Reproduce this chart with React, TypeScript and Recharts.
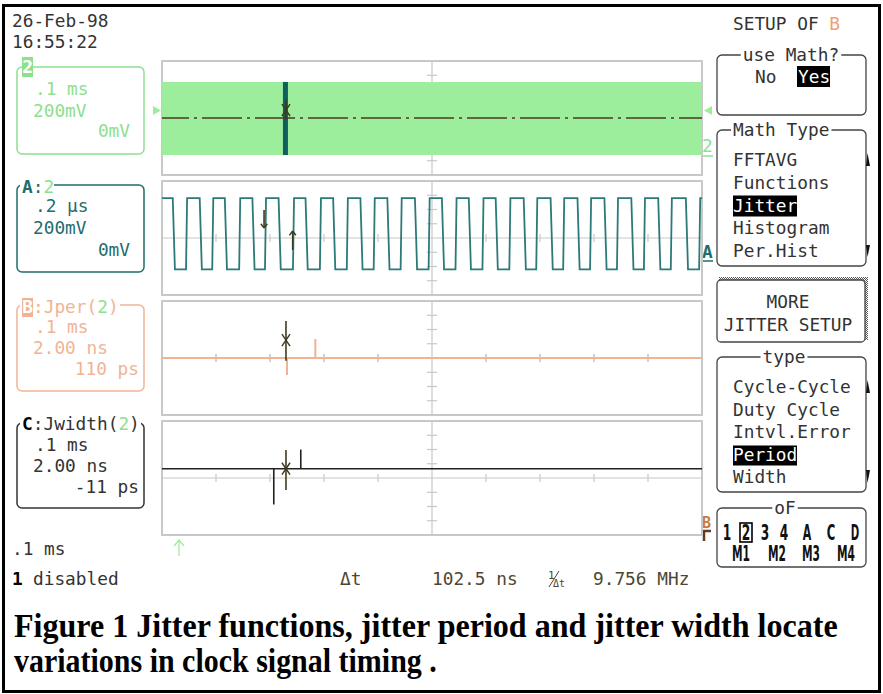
import React, { useLayoutEffect, useRef, useState } from 'react';
import { ComposedChart, Line, Area, XAxis, YAxis, ReferenceLine, ReferenceArea } from 'recharts';

// x is in screen divisions (0..10), y in divisions (-4..4)

// channel 2 at .1 ms/div - the clock smears into a solid band
const envelopeX = [0, 10];
const envelopeLow = [-2.6, -2.6];
const envelopeHigh = [2.53, 2.53];

// trace A at .2 us/div - clock edges
const fallEdges = [0.199, 0.698, 1.163, 1.674, 2.159, 2.658, 3.169, 3.674, 4.173, 4.684,
  5.183, 5.681, 6.179, 6.698, 7.196, 7.694, 8.193, 8.691, 9.189, 9.701];
const riseEdges = [0.445, 0.93, 1.429, 1.907, 2.425, 2.924, 3.422, 3.92, 4.419, 4.937,
  5.435, 5.934, 6.432, 6.93, 7.429, 7.927, 8.425, 8.924, 9.422, 9.947];
const clockHigh = 2.8;
const clockLow = -2.2;

// trace B, Jper(2), 2.00 ns/div
const jperBase = 0;
const jperSpikeX = [2.315, 2.84];
const jperSpikeY = [-1.19, 1.33];

// trace C, Jwidth(2), 2.00 ns/div
const jwidthBase = 0.65;
const jwidthSpikeX = [2.07, 2.57];
const jwidthSpikeY = [-1.86, 2.0];

const cursorX = 2.296;

const mathTypes = ['FFTAVG', 'Functions', 'Jitter', 'Histogram', 'Per.Hist'];
const jitterTypes = ['Cycle-Cycle', 'Duty Cycle', 'Intvl.Error', 'Period', 'Width'];
const sourcesRow1 = ['1', '2', '3', '4', 'A', 'C', 'D'];
const sourcesRow2 = ['M1', 'M2', 'M3', 'M4'];

const W = 883;
const H = 694;
const PANEL_LEFT = 162;
const PANEL_W = 540;
const PANEL_H = 114;

const GRID = '#c8c8c8';
const GREEN = '#9cee9c';
const GREEN_TXT = '#8ee08e';
const TEAL = '#1f6d6d';
const WAVE = '#2b7a78';
const PEACH = '#f0b494';
const INK = '#333';
const MARK = '#3f3a1e';
const MONO = "'DejaVu Sans Mono', monospace";
const FS = 17.8;

const envData = envelopeX.map((x, i) => ({ x, env: [envelopeLow[i], envelopeHigh[i]] }));

const clockData = (() => {
  const edges = [
    ...fallEdges.map((t) => ({ t, fall: true })),
    ...riseEdges.map((t) => ({ t, fall: false })),
  ].sort((a, b) => a.t - b.t);
  const pts = [{ x: 0, y: clockHigh }];
  edges.forEach((e) => {
    if (e.fall) pts.push({ x: e.t, y: clockHigh }, { x: e.t + 0.04, y: clockLow });
    else pts.push({ x: e.t, y: clockLow }, { x: e.t + 0.02, y: clockHigh });
  });
  pts.push({ x: 10, y: clockHigh });
  return pts;
})();

function spikeTrace(base: number, xs: number[], ys: number[]) {
  const pts = [{ x: 0, y: base }];
  xs.forEach((t, i) => pts.push({ x: t, y: base }, { x: t, y: ys[i] }, { x: t, y: base }));
  pts.push({ x: 10, y: base });
  return pts;
}

const jperData = spikeTrace(jperBase, jperSpikeX, jperSpikeY);
const jwidthData = spikeTrace(jwidthBase, jwidthSpikeX, jwidthSpikeY);

function seg(key: string, x1: number, y1: number, x2: number, y2: number, stroke = GRID, w = 1.2) {
  return (
    <ReferenceLine key={key} segment={[{ x: x1, y: y1 }, { x: x2, y: y2 }]} stroke={stroke} strokeWidth={w} ifOverflow="visible" />
  );
}

// graticule: border, centre cross and minor ticks
function graticule(id: string, hLine: boolean, gap?: [number, number]) {
  const out = [
    <ReferenceArea key={id + 'b'} x1={0} x2={10} y1={-4} y2={4} fill="none" stroke={GRID} strokeWidth={2} ifOverflow="visible" />,
  ];
  if (gap) {
    out.push(seg(id + 'v1', 5, -4, 5, gap[0]), seg(id + 'v2', 5, gap[1], 5, 4));
  } else {
    out.push(seg(id + 'v', 5, -4, 5, 4));
  }
  [-3, -2, -1, 1, 2, 3].forEach((y) => {
    if (gap && y > gap[0] && y < gap[1]) return;
    out.push(seg(id + 'ty' + y, 4.905, y, 5.095, y));
  });
  if (hLine) out.push(seg(id + 'h', 0, 0, 10, 0));
  if (!gap) {
    [1, 2, 3, 4, 6, 7, 8, 9].forEach((x) => out.push(seg(id + 'tx' + x, x, -0.28, x, 0.28)));
  }
  return out;
}

function cursorMark(id: string, x: number, top: number, bottom: number, mid: number) {
  const dx = 0.075;
  const dy = 0.42;
  return [
    seg(id + 's', x, bottom, x, top, MARK, 1.6),
    seg(id + 'a', x - dx, mid + dy, x, mid, MARK, 1.4),
    seg(id + 'b', x + dx, mid + dy, x, mid, MARK, 1.4),
    seg(id + 'c', x - dx, mid - dy, x, mid, MARK, 1.4),
    seg(id + 'd', x + dx, mid - dy, x, mid, MARK, 1.4),
  ];
}

function arrow(id: string, x: number, tail: number, head: number) {
  const dx = 0.06;
  const dy = head > tail ? -0.3 : 0.3;
  return [
    seg(id + 's', x, tail, x, head, MARK, 1.6),
    seg(id + 'a', x - dx, head + dy, x, head, MARK, 1.4),
    seg(id + 'b', x + dx, head + dy, x, head, MARK, 1.4),
  ];
}

function Scope({ top, children }: { top: number; children: React.ReactNode }) {
  return (
    <div style={{ position: 'absolute', left: PANEL_LEFT - 2, top: top - 2 }}>
      <ComposedChart width={PANEL_W + 4} height={PANEL_H + 4} margin={{ top: 2, right: 2, bottom: 2, left: 2 }}>
        <XAxis type="number" dataKey="x" domain={[0, 10]} hide allowDataOverflow />
        <YAxis type="number" domain={[-4, 4]} hide allowDataOverflow />
        {children}
      </ComposedChart>
    </div>
  );
}

function Txt({ x, y, fill = INK, anchor = 'start', weight = 'normal', size = FS, children }: any) {
  return (
    <text x={x} y={y} fill={fill} textAnchor={anchor} fontWeight={weight} fontFamily={MONO} fontSize={size}>
      {children}
    </text>
  );
}

// squeezes a text horizontally so that it is exactly `width` wide
function FitText({ x, y, width, sy = 1, anchor = 'start', children, ...rest }: any) {
  const ref = useRef<SVGTextElement>(null);
  const [sx, setSx] = useState(1);
  useLayoutEffect(() => {
    const el = ref.current;
    if (!el) return;
    const w = el.getComputedTextLength();
    if (w > 0) setSx(width / w);
  }, [width]);
  return (
    <text ref={ref} transform={`translate(${x} ${y}) scale(${sx} ${sy})`} textAnchor={anchor} {...rest}>
      {children}
    </text>
  );
}

function MenuBox({ x, y, w, h, label, labelX, anchor = 'start' }: any) {
  const lw = label.length * 10.72;
  const lx = anchor === 'middle' ? labelX - lw / 2 : labelX;
  return (
    <g>
      <rect x={x} y={y} width={w} height={h} rx={5} fill="none" stroke="#444" strokeWidth={1.3} />
      <rect x={lx - 2} y={y - 8} width={lw + 4} height={14} fill="#fff" />
      <Txt x={labelX} y={y + 6} anchor={anchor}>{label}</Txt>
    </g>
  );
}

export default function App() {
  const row1X = [727, 746, 765, 784, 807, 831, 855];
  const row2X = [741, 777, 811, 846];
  return (
    <div style={{ position: 'absolute', left: 0, top: 0, width: W, height: H, background: '#fff', overflow: 'hidden' }}>
      <svg width={W} height={H} style={{ position: 'absolute', left: 0, top: 0 }}>
        <defs>
          <pattern id="hatch" width="2" height="2" patternUnits="userSpaceOnUse">
            <rect width="1" height="1" fill="#555" />
            <rect x="1" y="1" width="1" height="1" fill="#555" />
          </pattern>
        </defs>
        <rect x={3.5} y={5.5} width={876} height={686} fill="none" stroke="#000" strokeWidth={3} />

        <Txt x={12} y={27}>26-Feb-98</Txt>
        <Txt x={12} y={48}>16:55:22</Txt>

        {/* channel 2 box */}
        <rect x={17} y={67} width={127} height={87} rx={5} fill="none" stroke={GREEN_TXT} strokeWidth={1.5} />
        <rect x={22} y={57} width={11} height={20} fill={GREEN_TXT} />
        <Txt x={27.5} y={73} fill="#fff" anchor="middle" weight="bold">2</Txt>
        <Txt x={35} y={95} fill={GREEN_TXT}>.1 ms</Txt>
        <Txt x={33} y={117} fill={GREEN_TXT}>200mV</Txt>
        <Txt x={130} y={137} fill={GREEN_TXT} anchor="end">0mV</Txt>

        {/* trace A box */}
        <rect x={17} y={185} width={127} height={87} rx={5} fill="none" stroke={TEAL} strokeWidth={1.5} />
        <rect x={20} y={178} width={34} height={14} fill="#fff" />
        <text x={22} y={193} fontFamily={MONO} fontSize={FS} fill={TEAL}>
          <tspan fontWeight="bold">A</tspan>
          <tspan>:</tspan>
          <tspan fill={GREEN_TXT}>2</tspan>
        </text>
        <Txt x={35} y={212} fill={TEAL}>.2 µs</Txt>
        <Txt x={33} y={234} fill={TEAL}>200mV</Txt>
        <Txt x={130} y={256} fill={TEAL} anchor="end">0mV</Txt>

        {/* trace B box */}
        <rect x={17} y={305} width={127} height={86} rx={5} fill="none" stroke={PEACH} strokeWidth={1.5} />
        <rect x={20} y={297} width={100} height={16} fill="#fff" />
        <rect x={22} y={298} width={11} height={19} fill={PEACH} />
        <Txt x={27.5} y={313} fill="#fff" anchor="middle" weight="bold">B</Txt>
        <text x={33} y={313} fontFamily={MONO} fontSize={FS} fill={PEACH}>
          <tspan>:Jper(</tspan>
          <tspan fill={GREEN_TXT}>2</tspan>
          <tspan>)</tspan>
        </text>
        <Txt x={35} y={333} fill={PEACH}>.1 ms</Txt>
        <Txt x={33} y={354} fill={PEACH}>2.00 ns</Txt>
        <Txt x={139} y={375} fill={PEACH} anchor="end">110 ps</Txt>

        {/* trace C box */}
        <rect x={17} y={423} width={127} height={85} rx={5} fill="none" stroke={INK} strokeWidth={1.5} />
        <rect x={20} y={416} width={121} height={14} fill="#fff" />
        <text x={22} y={430} fontFamily={MONO} fontSize={FS} fill={INK}>
          <tspan fontWeight="bold" fill="#000">C</tspan>
          <tspan>:Jwidth(</tspan>
          <tspan fill={GREEN_TXT}>2</tspan>
          <tspan>)</tspan>
        </text>
        <Txt x={35} y={451}>.1 ms</Txt>
        <Txt x={33} y={472}>2.00 ns</Txt>
        <Txt x={139} y={493} anchor="end">-11 ps</Txt>

        {/* trace side markers */}
        <polygon points="153,106 153,115 161,110.5" fill={GREEN} />
        <polygon points="712,106 712,115 704,110.5" fill={GREEN} />
        <Txt x={702} y={152} fill={GREEN_TXT}>2</Txt>
        <line x1={702} x2={713} y1={156} y2={156} stroke={GREEN_TXT} strokeWidth={1.5} />
        <Txt x={702} y={258} fill={TEAL} weight="bold">A</Txt>
        <line x1={702} x2={713} y1={261} y2={261} stroke={TEAL} strokeWidth={1.5} />
        <Txt x={702} y={528} fill="#c87a40" weight="bold" size={15}>B</Txt>
        <path d="M704,541 L704,531 L711,531" fill="none" stroke="#6a3a18" strokeWidth={2.5} />
        <path d="M179,556 L179,541 M174,546 L179,540 L184,546" fill="none" stroke={GREEN} strokeWidth={1.3} />

        {/* right menu */}
        <text x={733} y={30} fontFamily={MONO} fontSize={FS} fill={INK}>
          <tspan>SETUP OF </tspan>
          <tspan fill="#f0a070">B</tspan>
        </text>

        <MenuBox x={717} y={55} w={149} h={60} label="use Math?" labelX={791} anchor="middle" />
        <Txt x={755} y={83}>No</Txt>
        <rect x={797} y={66} width={33} height={21} fill="#000" />
        <Txt x={798} y={83} fill="#fff">Yes</Txt>

        <MenuBox x={717} y={130} w={149} h={136} label="Math Type" labelX={733} />
        {mathTypes.map((t, i) => {
          const y = 166 + i * 22.75;
          const sel = t === 'Jitter';
          return (
            <g key={t}>
              {sel && <rect x={733} y={y - 16} width={64} height={21} fill="#000" />}
              <Txt x={733} y={y} fill={sel ? '#fff' : INK}>{t}</Txt>
            </g>
          );
        })}
        <polygon points="866,166 870,166 867.5,153" fill="#111" />
        <polygon points="866,245 870,245 867.5,257" fill="#111" />

        <rect x={719} y={277} width={149} height={4} fill="url(#hatch)" />
        <rect x={864} y={277} width={4} height={63} fill="url(#hatch)" />
        <rect x={717} y={280} width={148} height={62} rx={4} fill="#fff" stroke="#444" strokeWidth={1.3} />
        <Txt x={788} y={308} anchor="middle">MORE</Txt>
        <Txt x={788} y={331} anchor="middle">JITTER SETUP</Txt>

        <MenuBox x={717} y={357} w={149} h={135} label="type" labelX={784} anchor="middle" />
        {jitterTypes.map((t, i) => {
          const y = 393 + i * 22.5;
          const sel = t === 'Period';
          return (
            <g key={t}>
              {sel && <rect x={733} y={y - 15} width={64} height={20} fill="#000" />}
              <Txt x={733} y={y} fill={sel ? '#fff' : INK}>{t}</Txt>
            </g>
          );
        })}
        <polygon points="866,393 870,393 867.5,380" fill="#111" />
        <polygon points="866,470 870,470 867.5,483" fill="#111" />

        <MenuBox x={717} y={508} w={149} h={59} label="oF" labelX={785} anchor="middle" />
        <rect x={740} y={523} width={12} height={19} fill="none" stroke="#000" strokeWidth={1.6} />
        {sourcesRow1.map((s, i) => (
          <FitText key={s} x={row1X[i]} y={540} width={8.5} sy={1.2} anchor="middle"
            fontFamily="'DejaVu Sans', sans-serif" fontWeight="bold" fontSize={17} fill="#111">{s}</FitText>
        ))}
        {sourcesRow2.map((s, i) => (
          <FitText key={s} x={row2X[i]} y={561} width={18} sy={1.2} anchor="middle"
            fontFamily="'DejaVu Sans', sans-serif" fontWeight="bold" fontSize={17} fill="#111">{s}</FitText>
        ))}

        {/* bottom status line */}
        <Txt x={12} y={555}>.1 ms</Txt>
        <Txt x={12} y={585} fill="#000" weight="bold">1</Txt>
        <Txt x={33} y={585}>disabled</Txt>
        <Txt x={340} y={585} fill="#4f4631">Δt</Txt>
        <Txt x={432} y={585} fill="#4f4631">102.5 ns</Txt>
        <text x={548} y={579} fontFamily={MONO} fontSize={11} fill="#4f4631">1</text>
        <line x1={549} y1={587} x2={559} y2={571} stroke="#4f4631" strokeWidth={1} />
        <text x={553} y={587} fontFamily={MONO} fontSize={10} fill="#4f4631">Δt</text>
        <Txt x={593} y={585} fill="#4f4631">9.756 MHz</Txt>

        {/* caption */}
        <FitText x={14} y={637} width={824} fontFamily="'Liberation Serif', serif" fontWeight="bold" fontSize={34} fill="#000">
          Figure 1 Jitter functions, jitter period and jitter width locate
        </FitText>
        <FitText x={14} y={672} width={423} fontFamily="'Liberation Serif', serif" fontWeight="bold" fontSize={34} fill="#000">
          variations in clock signal timing .
        </FitText>
      </svg>

      <Scope top={61}>
        {graticule('p1', false, [-2.6, 2.53])}
        <Area data={envData} dataKey="env" type="linear" stroke="none" fill={GREEN} fillOpacity={1} isAnimationActive={false} dot={false} activeDot={false} />
        <Line data={[{ x: cursorX - 0.01, y: -2.6 }, { x: cursorX - 0.01, y: 2.53 }]} dataKey="y" stroke="#0f5f5f" strokeWidth={5} dot={false} activeDot={false} isAnimationActive={false} />
        <Line data={[{ x: 0, y: 0 }, { x: 10, y: 0 }]} dataKey="y" stroke="#4a3a22" strokeWidth={1.6} strokeDasharray="40 5 3 5" strokeDashoffset={13} dot={false} activeDot={false} isAnimationActive={false} />
        {cursorMark('p1c', cursorX, 1.3, -0.1, 0.56)}
      </Scope>

      <Scope top={181}>
        {graticule('p2', true)}
        <Line data={clockData} dataKey="y" type="linear" stroke={WAVE} strokeWidth={1.8} dot={false} activeDot={false} isAnimationActive={false} />
        {arrow('p2d', 1.89, 1.96, 0.7)}
        {arrow('p2u', 2.42, -0.84, 0.49)}
      </Scope>

      <Scope top={301}>
        {graticule('p3', false)}
        {[1, 2, 3, 4, 6, 7, 8, 9].map((x) => seg('p3tx' + x, x, -0.28, x, 0.28))}
        <Line data={jperData} dataKey="y" type="linear" stroke={PEACH} strokeWidth={2} dot={false} activeDot={false} isAnimationActive={false} />
        {cursorMark('p3c', cursorX, 2.6, -0.2, 1.26)}
      </Scope>

      <Scope top={421}>
        {graticule('p4', true)}
        <Line data={jwidthData} dataKey="y" type="linear" stroke="#222" strokeWidth={1.6} dot={false} activeDot={false} isAnimationActive={false} />
        {cursorMark('p4c', cursorX, 1.96, -0.84, 0.65)}
      </Scope>
    </div>
  );
}
